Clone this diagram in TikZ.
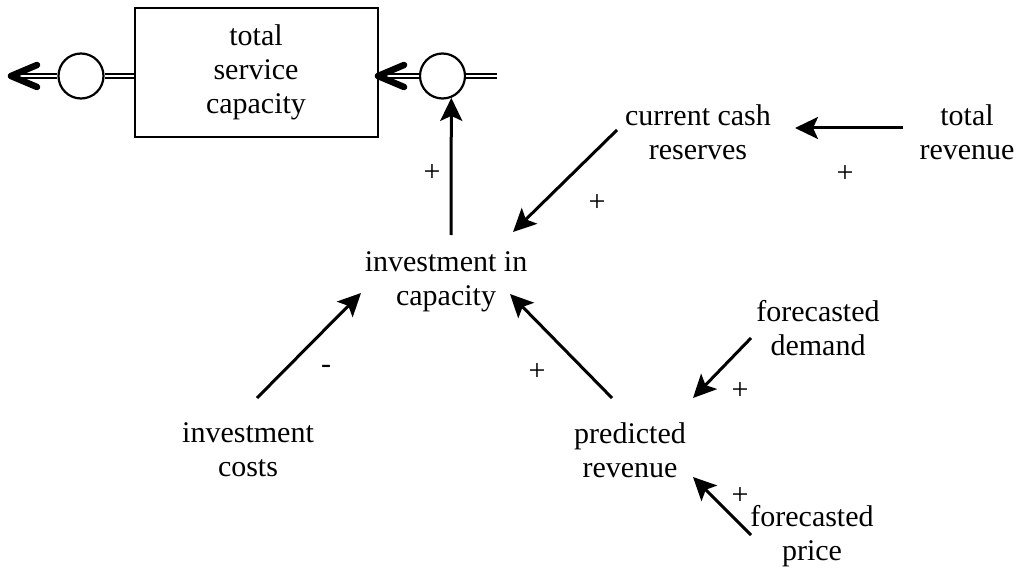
\documentclass[tikz,border=0pt]{standalone}
\usepackage{fontspec}
\setmainfont{Liberation Serif}
\usetikzlibrary{arrows.meta,calc}
\begin{document}
\begin{tikzpicture}[x=1pt,y=-1pt,
  lbl/.style={font=\fontsize{30}{34}\selectfont, align=center, inner sep=0pt},
  sgn/.style={font=\fontsize{30}{34}\selectfont, inner sep=0pt},
  link/.style={line width=3pt, -{Stealth[length=23pt,width=22pt,inset=5pt]}},
  pipe/.style={double, line width=1.8pt, double distance=2.8pt},
  chev/.style={line width=6.5pt, line cap=round, line join=round},
  valve/.style={circle, draw, line width=2.2pt, minimum size=45pt, inner sep=0pt, fill=white},
  stockbox/.style={draw, line width=2pt, minimum width=243pt, minimum height=129pt, align=center, inner sep=0pt, font=\fontsize{30}{34}\selectfont}]
\useasboundingbox (0,0) rectangle (1019,572);
% stock and flows
\node[stockbox] (stock) at (256,72.5) {total\\service\\capacity};
\node[valve] (valveL) at (81,76) {};
\node[valve] (valveR) at (442.5,76) {};
\coordinate (outL) at (11,76);
\coordinate (inR) at (497,76);
\coordinate (tipR) at (378,76);
\draw[pipe] (valveL -| stock.west) -- (valveL.east);
\draw[pipe, shorten >=6pt] (valveL.west) -- (outL);
\draw[chev] ($(outL)+(26,-11)$) -- (outL) -- ($(outL)+(26,11)$);
\draw[pipe] (inR) -- (valveR.east);
\draw[pipe, shorten >=6pt] (valveR.west) -- (tipR);
\draw[chev] ($(tipR)+(26,-11)$) -- (tipR) -- ($(tipR)+(26,11)$);
% auxiliaries
\node[lbl] (inv) at (446,282) {investment in\\capacity};
\node[lbl] (cash) at (698,132) {current cash\\reserves};
\node[lbl] (rev) at (967,132) {total\\revenue};
\node[lbl] (costs) at (248,450) {investment\\costs};
\node[lbl] (pred) at (630,450) {predicted\\revenue};
\node[lbl] (demand) at (818,328) {forecasted\\demand};
\node[lbl] (price) at (812,536) {forecasted\\price};
% links
\draw[link] ($(inv)+(5,-47)$) -- (valveR.-68);
\draw[link] ($(cash)+(-81,-2)$) -- ($(inv)+(67,-50)$);
\draw[link] ($(rev)+(-64,-4)$) -- ($(cash)+(97,-4)$);
\draw[link] ($(costs)+(9,-52)$) -- ($(inv)+(-85,11)$);
\draw[link] ($(pred)+(-18,-52)$) -- ($(inv)+(64,12)$);
\draw[link] ($(demand)+(-67,10)$) -- ($(pred)+(63,-52)$);
\draw[link] ($(price)+(-61,-1)$) -- ($(pred)+(63,27)$);
% polarities
\node[sgn] (s1) at (432,173) {+};
\node[sgn] (s2) at (597,203) {+};
\node[sgn] (s3) at (845,174) {+};
\node[sgn] (s4) at (326,369) {-};
\node[sgn] (s5) at (537,372) {+};
\node[sgn] (s6) at (740,391) {+};
\node[sgn] (s7) at (740,496) {+};
\end{tikzpicture}
\end{document}
